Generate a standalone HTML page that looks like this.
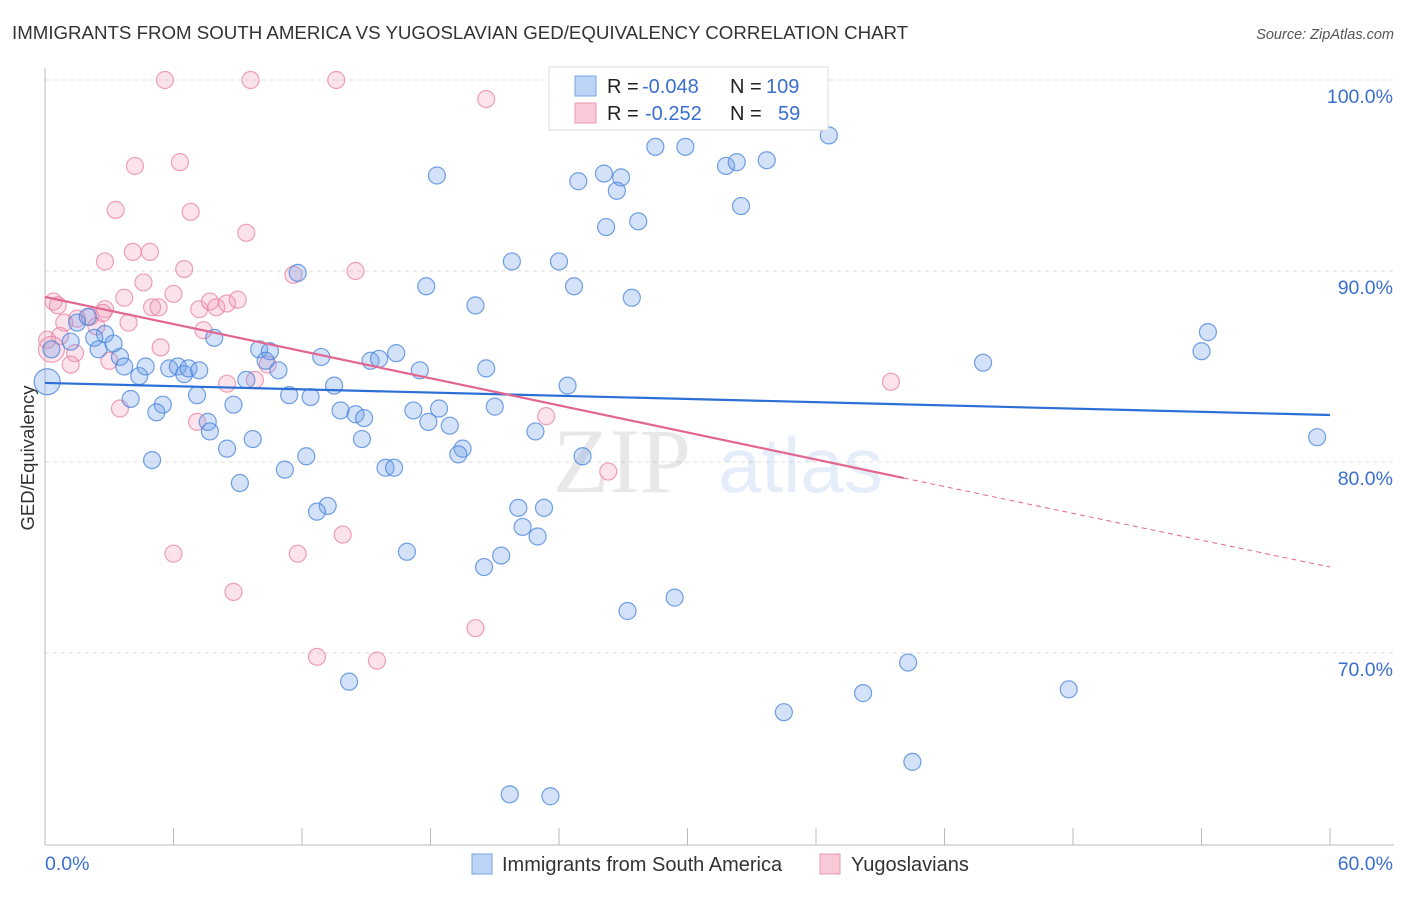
<!DOCTYPE html>
<html><head><meta charset="utf-8"><style>
html,body{margin:0;padding:0;background:#fff;}
body{width:1406px;height:892px;overflow:hidden;font-family:"Liberation Sans",sans-serif;}
</style></head><body>
<svg id="chart" width="1406" height="892" xmlns="http://www.w3.org/2000/svg" font-family="Liberation Sans, sans-serif">
<text x="12" y="39" font-size="18.7" fill="#333">IMMIGRANTS FROM SOUTH AMERICA VS YUGOSLAVIAN GED/EQUIVALENCY CORRELATION CHART</text>
<text x="1394" y="39" font-size="14.5" fill="#555" font-style="italic" text-anchor="end">Source: ZipAtlas.com</text>
<text transform="translate(34,458) rotate(-90)" font-size="18.5" fill="#333" text-anchor="middle">GED/Equivalency</text>
<g id="grid"></g>
<g opacity="0.13">
<text x="553" y="492" font-size="92" font-family="Liberation Serif, serif" fill="#555">ZIP</text>
<text x="718" y="492" font-size="78" fill="#3a7bd5">atlas</text>
</g>
<g id="points"></g>
<g id="trends"></g>
<g>
<rect x="549" y="67" width="279" height="63" fill="#fff" stroke="#ddd"/>
<rect x="575" y="76" width="21" height="20" fill="#bcd4f5" stroke="#7aa6e6"/>
<rect x="575" y="103" width="21" height="20" fill="#f9c9d8" stroke="#eb9ab5"/>
<text x="607" y="93" font-size="20" fill="#222">R = <tspan x="642" fill="#3a6fd0">-0.048</tspan><tspan x="730">N = </tspan><tspan x="766" fill="#3a6fd0">109</tspan></text>
<text x="607" y="120" font-size="20" fill="#222">R = <tspan x="645" fill="#3a6fd0">-0.252</tspan><tspan x="730">N = </tspan><tspan x="778" fill="#3a6fd0">59</tspan></text>
</g>
<g>
<rect x="472" y="854" width="20" height="20" fill="#bcd4f5" stroke="#7aa6e6"/>
<text x="502" y="871" font-size="20" fill="#333">Immigrants from South America</text>
<rect x="820" y="854" width="20" height="20" fill="#f9c9d8" stroke="#eb9ab5"/>
<text x="851" y="871" font-size="20" fill="#333">Yugoslavians</text>
</g>
</svg>
<script>
const xTickLabels=["0.0%","60.0%"];
const yTicks=[100,90,80,70];
const yTickLabels=["100.0%","90.0%","80.0%","70.0%"];
const blueX=[35.3,36.6,28.5,29.9,31.8,32.3,33.7,18.3,26.1,26.9,24.9,26.7,32.5,27.7,26.2,21.8,24.0,11.8,17.8,24.7,27.4,20.1,54.3,54.0,43.8,7.9,2.8,2.3,1.5,2.0,1.2,0.3,2.5,3.2,3.5,3.7,4.4,4.7,5.8,6.2,6.5,6.7,7.2,10.0,10.5,10.3,10.9,12.9,15.2,15.6,16.4,17.5,20.6,9.4,13.5,24.4,7.1,4.0,5.5,8.8,11.4,12.4,13.8,14.5,14.9,17.2,17.9,18.4,18.9,21.0,5.2,7.6,7.7,9.7,8.5,14.8,19.5,19.3,22.9,25.1,5.0,12.2,11.2,15.9,16.3,9.1,13.2,12.7,22.1,23.3,22.3,23.0,16.9,21.3,20.5,29.4,27.2,40.3,14.2,47.8,38.2,34.5,40.5,21.7,23.6,59.4,0.1];
const blueY=[100,97.1,96.5,96.5,95.5,95.7,95.8,95.0,95.1,94.9,94.7,94.2,93.4,92.6,92.3,90.5,90.5,89.9,89.2,89.2,88.6,88.2,86.8,85.8,85.2,86.5,86.7,86.5,87.3,87.6,86.3,85.9,85.9,86.2,85.5,85.0,84.5,85.0,84.9,85.0,84.6,84.9,84.8,85.9,85.8,85.3,84.8,85.5,85.3,85.4,85.7,84.8,84.9,84.3,84.0,84.0,83.5,83.3,83.0,83.0,83.5,83.4,82.7,82.5,82.3,82.7,82.1,82.8,81.9,82.9,82.6,82.1,81.6,81.2,80.7,81.2,80.7,80.4,81.6,80.3,80.1,80.3,79.6,79.7,79.7,78.9,77.7,77.4,77.6,77.6,76.6,76.1,75.3,75.1,74.5,72.9,72.2,69.5,68.5,68.1,67.9,66.9,64.3,62.6,62.5,81.3,84.2];
const pinkX=[5.6,9.6,13.6,20.6,4.2,6.3,3.3,6.8,9.4,4.1,4.9,2.8,6.5,14.5,11.6,4.6,3.7,6.0,0.4,0.6,5.0,5.3,2.8,7.2,7.7,8.0,8.5,9.0,1.5,2.1,3.9,2.4,0.9,7.4,0.7,0.1,1.4,3.0,1.2,5.4,9.8,8.5,10.4,3.5,7.1,23.4,26.3,6.0,11.8,13.9,8.8,20.1,12.7,15.5,39.5,0.3,2.7];
const pinkY=[100,100,100,99.0,95.5,95.7,93.2,93.1,92.0,91.0,91.0,90.5,90.1,90.0,89.8,89.4,88.6,88.8,88.4,88.2,88.1,88.1,88.0,88.0,88.4,88.1,88.3,88.5,87.5,87.6,87.3,87.1,87.3,86.9,86.6,86.4,85.7,85.3,85.1,86.0,84.3,84.1,85.1,82.8,82.1,82.4,79.5,75.2,75.2,76.2,73.2,71.3,69.8,69.6,84.2,85.9,87.8];
const blueTrendX=[0,60];
const blueTrendY=[84.14,82.46];
const pinkTrendX=[0,40.1,60];
const pinkTrendY=[88.64,79.16,74.5];

const X0=45,X1=1330,Y100=80,PXPER=19.1;
function sx(v){return X0+(v/60)*(X1-X0);}
function sy(v){return Y100+(100-v)*PXPER;}
const NS="http://www.w3.org/2000/svg";
function mk(tag,attrs,parent){const e=document.createElementNS(NS,tag);for(const k in attrs)e.setAttribute(k,attrs[k]);parent.appendChild(e);return e;}
const grid=document.getElementById('grid');
yTicks.forEach((t,i)=>{
 const l=mk('line',{x1:45,x2:1394,y1:sy(t),y2:sy(t),stroke:'#ddd','stroke-dasharray':'4,4'},grid);
 
 
 const tx=mk('text',{x:1393,y:sy(t)+23,'font-size':19.5,fill:'#3a6fd0','text-anchor':'end'},grid);
 tx.textContent=yTickLabels[i];
 
 
});
const ax=mk('line',{x1:45,x2:45,y1:68,y2:845,stroke:'#bbb'},grid);


const bx=mk('line',{x1:45,x2:1394,y1:845,y2:845,stroke:'#bbb'},grid);


for(let i=0;i<=10;i++){
 const t=mk('line',{x1:sx(i*6),x2:sx(i*6),y1:828,y2:845,stroke:'#bbb'},grid);
 
 
}
const xl0=mk('text',{x:45,y:870,'font-size':19.5,fill:'#3a6fd0'},grid);xl0.textContent=xTickLabels[0];


const xl1=mk('text',{x:1393,y:870,'font-size':19.5,fill:'#3a6fd0','text-anchor':'end'},grid);xl1.textContent=xTickLabels[1];



const pts=document.getElementById('points');
function drawSeries(xs,ys,fill,stroke,name){
 xs.forEach((x,i)=>{
  const big=(x<0.5&&i===xs.length-1)||(name==='pink-point'&&x<0.5&&i===xs.length-2);
  const c=mk('circle',{cx:sx(x),cy:sy(ys[i]),r:big?13:8.5,fill:fill,stroke:stroke,'stroke-width':1.2},pts);
  
  
 });
}
drawSeries(pinkX,pinkY,'rgba(242,150,182,0.28)','rgba(232,130,165,0.75)','pink-point');
drawSeries(blueX,blueY,'rgba(110,160,232,0.30)','rgba(70,130,220,0.75)','blue-point');

const tr=document.getElementById('trends');
const bl=mk('line',{x1:sx(blueTrendX[0]),y1:sy(blueTrendY[0]),x2:sx(blueTrendX[1]),y2:sy(blueTrendY[1]),stroke:'#2c6fd6','stroke-width':2.2},tr);


const pl=mk('line',{x1:sx(pinkTrendX[0]),y1:sy(pinkTrendY[0]),x2:sx(pinkTrendX[1]),y2:sy(pinkTrendY[1]),stroke:'#e2668f','stroke-width':2.2},tr);


const pd=mk('line',{x1:sx(pinkTrendX[1]),y1:sy(pinkTrendY[1]),x2:sx(pinkTrendX[2]),y2:sy(pinkTrendY[2]),stroke:'#e2668f','stroke-width':1,'stroke-dasharray':'5,4'},tr);


</script>
</body></html>
